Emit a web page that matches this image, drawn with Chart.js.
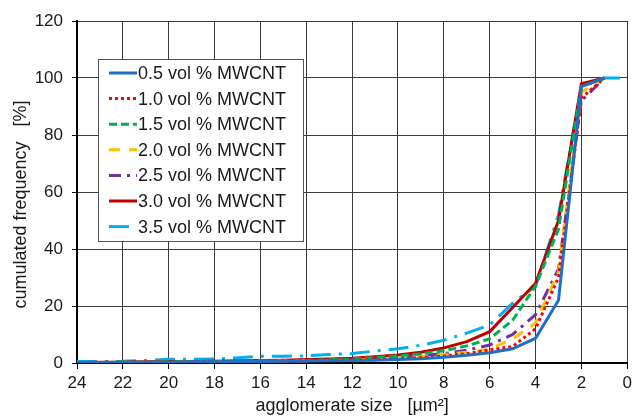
<!DOCTYPE html>
<html>
<head>
<meta charset="utf-8">
<script src="https://cdn.jsdelivr.net/npm/chart.js@4.4.1/dist/chart.umd.min.js"></script>
<style>
  html, body { margin: 0; padding: 0; background: #fff; }
</style>
</head>
<body>
<canvas id="chart" width="636" height="418"></canvas>
<script>
// agglomerate size [µm²], read right to left on the chart
const sizes = [24, 23, 22, 21, 20, 19, 18, 17, 16, 15, 14, 13, 12, 11, 10, 9, 8, 7, 6, 5, 4, 3, 2, 1, 0];

// cumulated frequency [%] per MWCNT content
const vol05 = [0.1, 0.2, 0.2, 0.3, 0.3, 0.4, 0.4, 0.5, 0.5, 0.6, 0.7, 0.8, 0.9, 1.0, 1.2, 1.5, 2.0, 2.7, 3.6, 5.0, 8.7, 22, 97, 100, null];
const vol10 = [0.1, 0.2, 0.2, 0.3, 0.3, 0.4, 0.4, 0.5, 0.6, 0.7, 0.8, 0.9, 1.0, 1.2, 1.5, 1.9, 2.5, 3.3, 4.6, 5.8, 12, 30, 93, 100, null];
const vol15 = [0.2, 0.2, 0.3, 0.3, 0.4, 0.5, 0.5, 0.6, 0.7, 0.8, 0.9, 1.1, 1.4, 1.9, 2.5, 3.2, 4.3, 6.0, 8.5, 15, 27, 47, 97, 100, null];
const vol20 = [0.1, 0.2, 0.2, 0.3, 0.3, 0.4, 0.4, 0.5, 0.6, 0.7, 0.8, 0.9, 1.0, 1.3, 1.7, 2.3, 3.0, 3.8, 4.8, 8.5, 14, 32, 95, 100, null];
const vol25 = [0.1, 0.2, 0.2, 0.3, 0.3, 0.4, 0.5, 0.5, 0.6, 0.7, 0.8, 0.9, 1.1, 1.5, 2.0, 2.6, 3.3, 4.5, 6.3, 10, 17, 33, 92, 100, null];
const vol30 = [0.2, 0.3, 0.3, 0.4, 0.5, 0.5, 0.6, 0.8, 0.9, 1.0, 1.2, 1.4, 1.7, 2.2, 2.8, 3.8, 5.3, 7.5, 11, 19.5, 28, 50, 98, 100, null];
const vol35 = [0.5, 0.5, 0.6, 0.9, 1.3, 1.3, 1.4, 1.8, 2.4, 2.4, 2.5, 3.0, 3.3, 4.2, 5.0, 6.2, 8.0, 10.5, 13.3, 21, 27, 52, 97, 100, 100];

const seriesLabels = ['0.5 vol % MWCNT', '1.0 vol % MWCNT', '1.5 vol % MWCNT', '2.0 vol % MWCNT',
                      '2.5 vol % MWCNT', '3.0 vol % MWCNT', '3.5 vol % MWCNT'];
const seriesValues = [vol05, vol10, vol15, vol20, vol25, vol30, vol35];
const seriesColors = ['#1f6fc6', '#ff0000', '#00b050', '#ffc000', '#7030a0', '#c00000', '#00b0f0'];
const seriesDash = [[], [3, 3], [8, 4], [11, 9], [12, 6, 3, 6], [], [20, 8, 3, 8]];

const FONT = '"Liberation Sans", Arial, sans-serif';

const datasets = seriesLabels.map((label, i) => ({
  label,
  data: sizes.map((x, j) => ({ x, y: seriesValues[i][j] })),
  showLine: true,
  borderColor: seriesColors[i],
  borderDash: seriesDash[i],
  borderWidth: 3,
  borderCapStyle: 'butt',
  pointRadius: 0,
  fill: false,
  tension: 0
}));

// legend box inside the plot, top left
const legendBox = {
  id: 'legendBox',
  afterDatasetsDraw(chart) {
    const { ctx, chartArea } = chart;
    const x0 = chartArea.left + 21;
    const y0 = chartArea.top + 38;
    const w = 205, h = 182;
    ctx.save();
    ctx.fillStyle = '#fff';
    ctx.fillRect(x0, y0, w, h);
    ctx.strokeStyle = '#555';
    ctx.lineWidth = 1;
    ctx.strokeRect(x0 + 0.5, y0 + 0.5, w, h);
    ctx.font = '18px ' + FONT;
    ctx.textBaseline = 'middle';
    chart.data.datasets.forEach((ds, i) => {
      const y = y0 + 14 + i * 25.6;
      ctx.beginPath();
      ctx.setLineDash(ds.borderDash);
      ctx.strokeStyle = ds.borderColor;
      ctx.lineWidth = 3;
      ctx.moveTo(x0 + 11, y);
      ctx.lineTo(x0 + 39, y);
      ctx.stroke();
      ctx.setLineDash([]);
      ctx.fillStyle = '#1a1a1a';
      ctx.fillText(ds.label, x0 + 40, y + 1);
    });
    ctx.restore();
  }
};

new Chart(document.getElementById('chart'), {
  type: 'scatter',
  data: { datasets },
  options: {
    responsive: false,
    animation: false,
    layout: { padding: { top: 21, right: 5, left: 0, bottom: 0 } },
    plugins: {
      legend: { display: false },
      tooltip: { enabled: false }
    },
    scales: {
      x: {
        type: 'linear',
        reverse: true,
        min: 0,
        max: 24,
        ticks: { stepSize: 2, font: { size: 17, family: FONT }, color: '#1a1a1a', padding: 4 },
        grid: { color: '#3a3a3a', lineWidth: 1, tickLength: 6, tickColor: '#000' },
        border: { color: '#000', width: 2 },
        title: {
          display: true,
          text: 'agglomerate size   [µm²]',
          font: { size: 18, family: FONT },
          color: '#1a1a1a',
          padding: { top: 0, bottom: 1 }
        },
        afterFit(scale) { scale.height = 55; }
      },
      y: {
        min: 0,
        max: 120,
        ticks: { stepSize: 20, font: { size: 17, family: FONT }, color: '#1a1a1a', padding: 9 },
        grid: { color: '#3a3a3a', lineWidth: 1, tickLength: 5, tickColor: '#000' },
        border: { color: '#000', width: 2 },
        title: {
          display: true,
          // trailing spaces keep the visible text a little below the axis centre, as in the original
          text: 'cumulated frequency   [%]     ',
          font: { size: 18, family: FONT },
          color: '#1a1a1a',
          padding: { top: 10, bottom: 0 }
        },
        afterFit(scale) { scale.width = 77; }
      }
    }
  },
  plugins: [legendBox]
});
</script>
</body>
</html>
